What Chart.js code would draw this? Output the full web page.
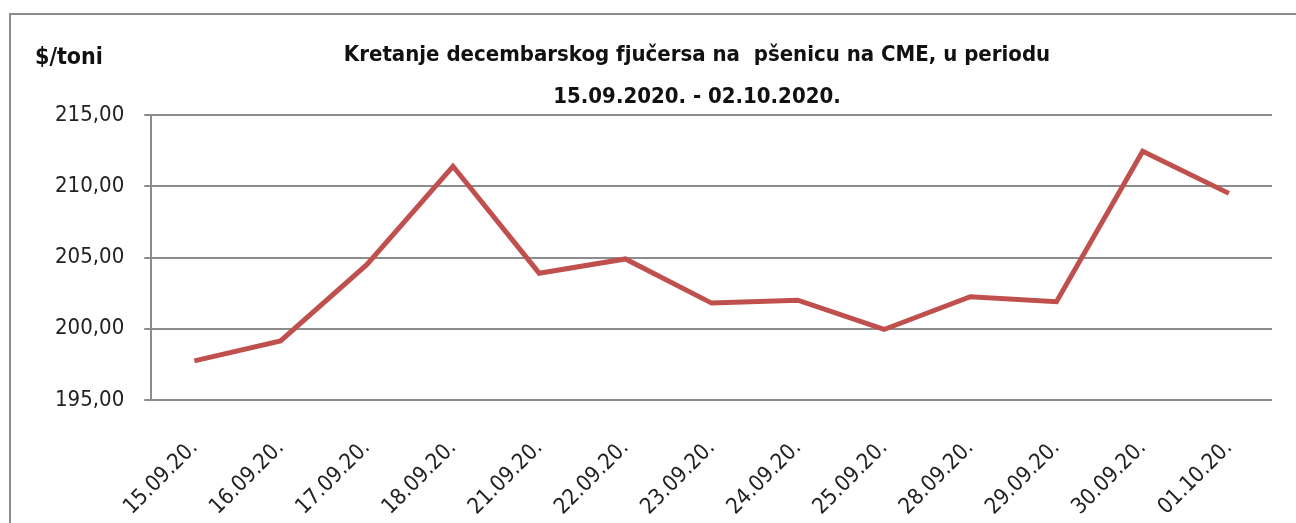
<!DOCTYPE html>
<html>
<head>
<meta charset="utf-8">
<script src="https://cdn.jsdelivr.net/npm/chart.js@4/dist/chart.umd.min.js"></script>
<style>
  html, body { margin: 0; padding: 0; background: #fff; }
  #wrap { position: relative; width: 1296px; height: 523px; overflow: hidden; }
  #frame { position: absolute; left: 9px; top: 13px; width: 1400px; height: 600px;
           border-left: 2px solid #8c8c8c; border-top: 2px solid #8c8c8c; }
  canvas { position: absolute; left: 0; top: 0; }
</style>
</head>
<body>
<div id="wrap">
  <div id="frame"></div>
  <canvas id="c" width="1296" height="523"></canvas>
</div>
<script>
const categories = ["15.09.20.", "16.09.20.", "17.09.20.", "18.09.20.", "21.09.20.", "22.09.20.", "23.09.20.", "24.09.20.", "25.09.20.", "28.09.20.", "29.09.20.", "30.09.20.", "01.10.20."];
const prices = [197.75, 199.15, 204.5, 211.4, 203.9, 204.9, 201.8, 202.0, 199.95, 202.25, 201.9, 212.45, 209.5];
const titleLines = ["Kretanje decembarskog fjučersa na  pšenicu na CME, u periodu", "15.09.2020. - 02.10.2020."];
const unitLabel = "$/toni";
const yMin = 195, yMax = 215, yStep = 5;

const FONT = "'DejaVu Sans Condensed', 'Liberation Sans Narrow', Roboto, sans-serif";

const textPlugin = {
  id: 'texts',
  afterDraw(chart) {
    const ctx = chart.ctx;
    ctx.save();
    ctx.fillStyle = "#111";
    ctx.textBaseline = "middle";
    ctx.font = "bold 23px " + FONT;
    ctx.textAlign = "left";
    ctx.fillText(unitLabel, 35, 58);
    ctx.font = "bold 22px " + FONT;
    ctx.textAlign = "center";
    ctx.fillText(titleLines[0], 697, 55);
    ctx.fillText(titleLines[1], 697, 97);
    ctx.restore();
  }
};

new Chart(document.getElementById('c'), {
  type: 'line',
  data: {
    labels: categories,
    datasets: [{
      data: prices,
      borderColor: '#c0504d',
      borderWidth: 5,
      pointRadius: 0,
      tension: 0,
      fill: false
    }]
  },
  options: {
    responsive: false,
    animation: false,
    layout: { padding: { top: 115, right: 24, left: 35, bottom: 0 } },
    plugins: {
      legend: { display: false },
      tooltip: { enabled: false },
      title: { display: false }
    },
    scales: {
      x: {
        offset: true,
        grid: { display: false },
        border: { display: false },
        afterFit: s => { s.height = 123; },
        ticks: {
          maxRotation: 45, minRotation: 45,
          color: '#222',
          font: { family: FONT, size: 22 },
          padding: 27,
          autoSkip: false
        }
      },
      y: {
        min: yMin, max: yMax,
        grid: { color: '#8c8c8c', lineWidth: 2, tickLength: 7 },
        border: { display: true, color: '#8c8c8c', width: 2 },
        ticks: {
          stepSize: yStep,
          color: '#222',
          font: { family: FONT, size: 22 },
          padding: 20,
          callback: v => v.toFixed(2).replace('.', ',')
        }
      }
    }
  },
  plugins: [textPlugin]
});
</script>
</body>
</html>
